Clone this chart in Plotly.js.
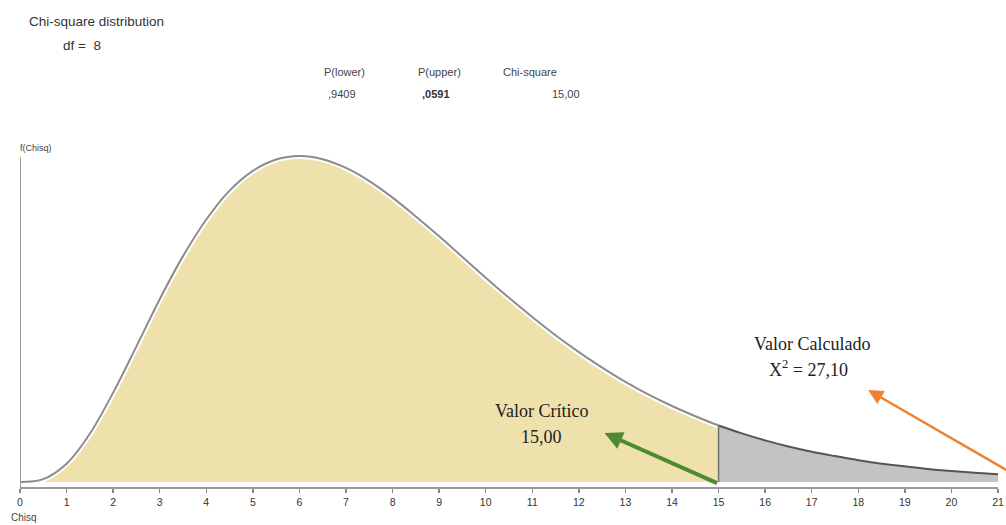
<!DOCTYPE html>
<html><head><meta charset="utf-8">
<script src="https://cdn.plot.ly/plotly-3.0.1.min.js"></script>
<style>html,body{margin:0;padding:0;background:#fff}#chart{width:1006px;height:525px}</style>
</head><body><div id="chart"></div>
<script>
// Values (chi-square density, df = 8)
const chisq = [0,0.5,1,1.5,2,2.5,3,3.5,4,4.5,5,5.5,6,6.5,7,7.5,8,8.5,9,9.5,10,10.5,11,11.5,12,12.5,13,13.5,14,14.5,15,15.5,16,16.5,17,17.5,18,18.5,19,19.5,20,20.5,21];
const density = [0,0.0010,0.0063,0.0166,0.0307,0.0466,0.0628,0.0776,0.0902,0.1001,0.1069,0.1108,0.1120,0.1109,0.1079,0.1034,0.0977,0.0912,0.0844,0.0773,0.0702,0.0633,0.0567,0.0504,0.0446,0.0393,0.0344,0.0300,0.0261,0.0226,0.0194,0.0167,0.0143,0.0122,0.0104,0.0089,0.0075,0.0063,0.0054,0.0045,0.0038,0.0032,0.0027];
const criticalValue = 15;
const tickVals = [0,1,2,3,4,5,6,7,8,9,10,11,12,13,14,15,16,17,18,19,20,21];

const loX=[],loY=[],hiX=[],hiY=[];
chisq.forEach((v,i)=>{ if(v<=criticalValue){loX.push(v);loY.push(density[i]);} if(v>=criticalValue){hiX.push(v);hiY.push(density[i]);} });
const critY = density[chisq.indexOf(criticalValue)];

const traces = [
 {x:loX,y:loY,type:'scatter',mode:'lines',fill:'tozeroy',fillcolor:'#EFE1AC',line:{color:'#ffffff',width:6,shape:'spline'},hoverinfo:'skip'},
 {x:hiX,y:hiY,type:'scatter',mode:'lines',fill:'tozeroy',fillcolor:'#C3C3C3',line:{color:'#C3C3C3',width:0,shape:'spline'},hoverinfo:'skip'},
 {x:loX,y:loY,type:'scatter',mode:'lines',line:{color:'#8C8C8C',width:2,shape:'spline'},hoverinfo:'skip'},
 {x:hiX,y:hiY,type:'scatter',mode:'lines',line:{color:'#555555',width:2,shape:'spline'},hoverinfo:'skip'}
];

const ymin=-0.00172, ymax=0.1175;
const sans='Liberation Sans, Arial, sans-serif';
const serif='Liberation Serif, Times New Roman, serif';
const PX=p=>(p-20)/978, PY=p=>(487-p)/347;
function txt(t,x,y,anchor,size,color){return {text:t,xref:'paper',yref:'paper',xanchor:anchor,yanchor:'middle',x:PX(x),y:PY(y),showarrow:false,font:{family:sans,size:size,color:color}};}
function stxt(t,x,y){return {text:t,xref:'paper',yref:'paper',xanchor:'center',yanchor:'middle',x:PX(x),y:PY(y),showarrow:false,font:{family:serif,size:18,color:'#222'}};}
const layout = {
 width:1006,height:525,margin:{l:20,r:8,t:140,b:38},
 paper_bgcolor:'#fff',plot_bgcolor:'#fff',showlegend:false,
 xaxis:{range:[0,21],tickvals:tickVals,ticktext:tickVals.map(String),showgrid:false,zeroline:false,
   showline:true,linecolor:'#9a9a9a',linewidth:2,ticks:'outside',ticklen:4,tickwidth:1.5,tickcolor:'#8a8a8a',
   tickfont:{family:sans,size:10.5,color:'#333'}},
 yaxis:{range:[ymin,ymax],showgrid:false,zeroline:false,showline:false,showticklabels:false,ticks:''},
 shapes:[
  {type:'line',xref:'x',yref:'y',x0:0,x1:0,y0:ymin,y1:0.1116,line:{color:'#9a9a9a',width:2}},
  {type:'line',xref:'x',yref:'y',x0:criticalValue,x1:criticalValue,y0:0,y1:critY,line:{color:'#707070',width:1.5}}
 ],
 annotations:[
  txt('Chi-square distribution',27,21,'left',13.5,'#333'),
  txt('df =  8',61,45,'left',13.5,'#333'),
  txt('P(lower)',322,72,'left',11,'#444'),
  txt(',9409',326,94,'left',11,'#444'),
  txt('P(upper)',416,72,'left',11,'#444'),
  txt('<b>,0591</b>',420,94,'left',11,'#333'),
  txt('Chi-square',501,72,'left',11,'#444'),
  txt('15,00',582,94,'right',11,'#444'),
  txt('f(Chisq)',18,148,'left',9,'#444'),
  txt('Chisq',9,517,'left',10,'#444'),
  stxt('Valor Crítico',541,411),
  stxt('15,00',541,437),
  stxt('Valor Calculado',812,344),
  stxt('X<sup>2</sup> = 27,10',808,368),
  {text:'',xref:'x',yref:'y',x:12.55,y:0.0168,axref:'x',ayref:'y',ax:15.0,ay:-0.0006,showarrow:true,arrowhead:2,arrowsize:0.9,arrowwidth:4,arrowcolor:'#4E8A2E'},
  {text:'',xref:'x',yref:'y',x:18.21,y:0.0316,axref:'x',ayref:'y',ax:21.25,ay:0.0035,showarrow:true,arrowhead:2,arrowsize:1.2,arrowwidth:2.5,arrowcolor:'#F0822E'}
 ]
};
Plotly.newPlot('chart',traces,layout,{displayModeBar:false,staticPlot:true});
</script></body></html>
